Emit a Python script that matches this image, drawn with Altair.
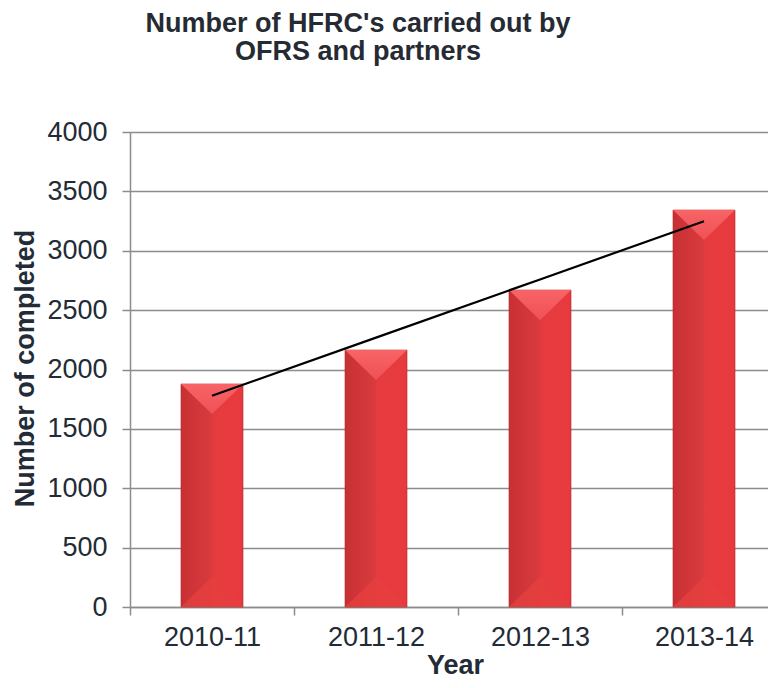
import altair as alt
import numpy as np
import pandas as pd

years = ["2010-11", "2011-12", "2012-13", "2013-14"]
completed = [1878, 2164, 2669, 3343]
y_ticks = [0, 500, 1000, 1500, 2000, 2500, 3000, 3500, 4000]

idx = np.arange(len(years))
slope, intercept = np.polyfit(idx, completed, 1)
trend = (intercept + slope * idx).tolist()

df = pd.DataFrame({"Year": years, "Completed": completed, "Trend": trend,
                   "Zero": [0] * len(years)})

W, H = 656, 475
BAR = 62
FONT = "Liberation Sans"
FS = 27
TXT = "#222b36"
GRID = "#8c8c8c"

x_enc = alt.X(
    "Year:N", sort=years, title="Year",
    scale=alt.Scale(paddingInner=0, paddingOuter=0),
    axis=alt.Axis(
        labelAngle=0, labelFontSize=FS, labelFont=FONT, labelColor=TXT,
        labelPadding=9, tickBand="extent", tickSize=8, tickColor=GRID,
        domainColor=GRID, domainWidth=1.5, tickWidth=1.5,
        titleFontSize=FS, titleFont=FONT, titleFontWeight="bold",
        titleColor=TXT, titleY=66, titleX=W / 2 - 3,
        titleBaseline="alphabetic", grid=False,
    ),
)
y_enc = alt.Y(
    "Completed:Q", title="Number of completed",
    scale=alt.Scale(domain=[0, 4000], nice=False),
    axis=alt.Axis(
        values=y_ticks, format="d", labelFontSize=FS, labelFont=FONT,
        labelColor=TXT, labelPadding=15, tickSize=8, tickColor=GRID,
        tickWidth=1.5, domainColor=GRID, domainWidth=1.5, grid=True,
        gridColor=GRID, gridWidth=1.5, titleFontSize=FS, titleFont=FONT,
        titleFontWeight="bold", titleColor=TXT, titleX=-97,
        titleY=236, titleBaseline="alphabetic", titleAlign="center",
    ),
)

bar_fill = alt.Gradient(
    gradient="linear", x1=0, x2=1, y1=0, y2=0,
    stops=[
        alt.GradientStop(color="#c83034", offset=0),
        alt.GradientStop(color="#d93b3e", offset=0.5),
        alt.GradientStop(color="#e53b3f", offset=0.51),
        alt.GradientStop(color="#e83a3e", offset=1),
    ],
)
top_fill = alt.Gradient(
    gradient="linear", x1=0, x2=0, y1=0, y2=1,
    stops=[
        alt.GradientStop(color="#f86466", offset=0),
        alt.GradientStop(color="#ef5155", offset=1),
    ],
)

bars = alt.Chart(df).mark_bar(
    size=BAR, fill=bar_fill, stroke="#b0262a", strokeWidth=0.6
).encode(x=x_enc, y=y_enc)

tops = alt.Chart(df).mark_point(
    shape="M-1,0 L1,0 L0,0.97 Z", size=BAR * BAR, filled=True,
    fill=top_fill, opacity=1, strokeWidth=0,
).encode(x=alt.X("Year:N", sort=years), y=alt.Y("Completed:Q"))

bottoms = alt.Chart(df).mark_point(
    shape="M-1,0 L1,0 L0,-0.97 Z", size=BAR * BAR, filled=True,
    fill="#e6403f", opacity=0.8, strokeWidth=0,
).encode(x=alt.X("Year:N", sort=years), y=alt.Y("Zero:Q"))

trend_line = alt.Chart(df).mark_line(color="black", strokeWidth=2.2).encode(
    x=alt.X("Year:N", sort=years), y=alt.Y("Trend:Q")
)

chart = alt.layer(bars, bottoms, tops, trend_line).properties(
    width=W, height=H,
    autosize=alt.AutoSizeParams(type="none"),
    padding={"left": 122, "top": 124, "right": -18, "bottom": 73},
    title=alt.TitleParams(
        text=["Number of HFRC's carried out by", "OFRS and partners"],
        fontSize=FS, fontWeight="bold", font=FONT, color="#262b33",
        anchor="middle", frame="group", dx=-100, offset=31,
        lineHeight=28.5, baseline="alphabetic",
    ),
).configure_view(stroke=None)

chart.save("out.html", embed_options={"renderer": "svg", "actions": False})
